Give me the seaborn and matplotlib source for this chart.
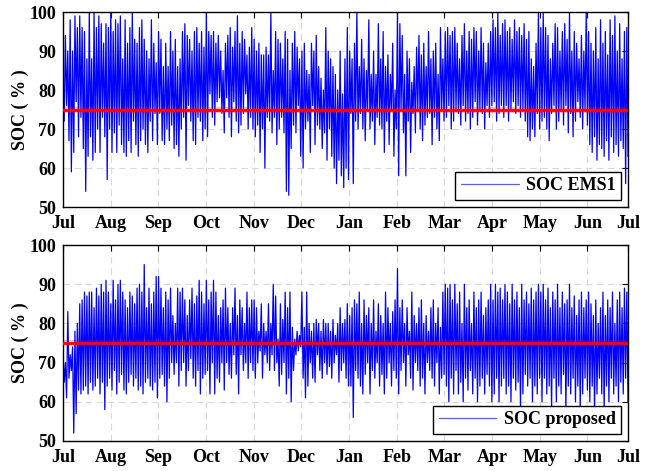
import numpy as np
import pandas as pd
import matplotlib
matplotlib.use("Agg")
import matplotlib.pyplot as plt
import seaborn as sns

# ---- data (alternating daily peaks / troughs) ----
month_labels = ["Jul", "Aug", "Sep", "Oct", "Nov", "Dec", "Jan", "Feb",
                "Mar", "Apr", "May", "Jun", "Jul"]
tick_days = [0, 30.8, 61.6, 92.4, 123.2, 154.0, 184.8, 215.6, 246.4,
             277.2, 308.0, 338.8, 365]
year_days = 365
soc_reference = 75

soc_ems1 = [
    # Jul
    82, 72, 94, 76, 90, 67, 98, 59, 90, 64, 99, 77, 96, 68, 99, 73, 96, 65, 95, 54,
    88, 63, 100, 68, 88, 62, 100, 64, 96, 70, 99, 64, 97, 73, 92, 68, 97, 57, 96, 70,
    # Aug
    100, 64, 95, 69, 98, 64, 97, 71, 99, 66, 88, 64, 98, 63, 92, 67, 96, 64, 100, 72,
    93, 66, 92, 63, 96, 67, 98, 70, 93, 66, 90, 64, 88, 72, 98, 67, 92, 74, 87, 66,
    # Sep
    95, 74, 93, 67, 86, 66, 92, 70, 86, 67, 95, 71, 90, 65, 93, 66, 86, 63, 88, 70,
    95, 73, 97, 62, 94, 76, 93, 72, 90, 67, 95, 66, 96, 73, 92, 72, 95, 67, 91, 70,
    # Oct
    100, 68, 95, 79, 94, 73, 95, 71, 92, 77, 94, 78, 90, 74, 85, 69, 92, 78, 94, 73,
    96, 68, 91, 77, 95, 72, 99, 69, 92, 71, 95, 74, 93, 79, 89, 70, 91, 73, 96, 70,
    # Nov
    93, 68, 90, 71, 92, 64, 89, 70, 89, 60, 91, 73, 89, 72, 100, 69, 85, 73, 95, 66,
    93, 70, 92, 73, 88, 69, 95, 54, 93, 53, 85, 65, 92, 71, 95, 69, 91, 76, 88, 63,
    # Dec
    90, 60, 92, 70, 85, 72, 84, 64, 92, 76, 90, 66, 94, 71, 86, 70, 83, 65, 80, 69,
    96, 62, 90, 70, 88, 63, 86, 60, 84, 56, 80, 62, 90, 58, 79, 55, 88, 60, 96, 57,
    # Jan
    90, 74, 88, 56, 92, 72, 100, 70, 86, 74, 93, 70, 88, 67, 85, 75, 98, 70, 84, 72,
    90, 66, 84, 73, 97, 71, 88, 70, 95, 64, 86, 72, 89, 66, 84, 75, 92, 63, 80, 70,
    # Feb
    100, 58, 97, 75, 94, 69, 84, 58, 90, 72, 88, 64, 82, 74, 86, 69, 91, 75, 94, 70,
    89, 67, 92, 71, 86, 73, 95, 74, 88, 66, 90, 73, 92, 70, 84, 67, 96, 75, 88, 72,
    # Mar
    95, 73, 96, 76, 94, 70, 95, 72, 96, 75, 92, 74, 88, 71, 94, 76, 97, 72, 90, 74,
    95, 70, 93, 73, 96, 77, 95, 71, 90, 75, 96, 74, 92, 70, 87, 76, 92, 73, 95, 76,
    # Apr
    98, 77, 96, 72, 100, 74, 94, 76, 97, 73, 98, 76, 95, 72, 96, 75, 93, 77, 98, 74,
    95, 76, 96, 73, 94, 75, 97, 72, 93, 68, 95, 67, 88, 70, 86, 68, 92, 74, 100, 70,
    # May
    96, 72, 100, 73, 96, 70, 94, 67, 88, 74, 92, 76, 97, 70, 96, 72, 90, 75, 95, 71,
    97, 76, 93, 69, 100, 74, 90, 68, 95, 72, 92, 77, 88, 73, 94, 70, 90, 75, 100, 71,
    # Jun
    95, 66, 92, 64, 90, 68, 96, 62, 88, 66, 98, 65, 92, 63, 95, 67, 89, 62, 98, 68,
    94, 64, 99, 66, 90, 63, 97, 67, 88, 65, 95, 56, 96, 63,
]

soc_proposed = [
    # Jul
    72, 65, 70, 61, 83, 66, 72, 68, 74, 52, 78, 57, 80, 63, 85, 62, 86, 63, 88, 64,
    87, 62, 88, 65, 88, 63, 84, 64, 89, 66, 87, 62, 90, 65, 88, 58, 91, 64, 88, 66,
    # Aug
    85, 63, 91, 68, 86, 62, 90, 65, 91, 67, 88, 63, 86, 62, 84, 65, 88, 67, 87, 64,
    85, 66, 89, 63, 90, 64, 88, 62, 95, 65, 84, 66, 89, 64, 85, 63, 88, 65, 92, 61,
    # Sep
    92, 66, 89, 67, 84, 64, 88, 60, 86, 66, 89, 70, 82, 67, 80, 70, 89, 64, 88, 68,
    89, 70, 86, 64, 82, 68, 86, 71, 89, 66, 85, 64, 87, 68, 91, 62, 88, 66, 85, 67,
    # Oct
    91, 68, 86, 62, 88, 70, 91, 62, 88, 66, 82, 65, 84, 70, 86, 63, 89, 70, 84, 67,
    80, 66, 84, 72, 89, 67, 82, 62, 86, 72, 84, 68, 80, 70, 88, 66, 84, 70, 86, 68,
    # Nov
    86, 66, 84, 70, 78, 73, 85, 66, 80, 72, 78, 70, 85, 68, 80, 72, 90, 68, 87, 70,
    76, 64, 85, 67, 81, 70, 88, 62, 84, 66, 88, 60, 79, 68, 76, 72, 78, 73, 77, 74,
    # Dec
    88, 66, 79, 61, 88, 64, 80, 70, 78, 66, 80, 65, 81, 72, 80, 68, 78, 66, 81, 70,
    80, 67, 80, 69, 78, 66, 81, 70, 77, 72, 80, 65, 84, 68, 80, 70, 81, 66, 85, 64,
    # Jan
    82, 64, 84, 56, 86, 68, 85, 66, 88, 64, 80, 62, 86, 67, 82, 70, 84, 62, 80, 68,
    86, 66, 78, 70, 85, 64, 82, 67, 80, 62, 88, 66, 84, 70, 80, 64, 83, 68, 86, 66,
    # Feb
    94, 62, 84, 68, 86, 70, 80, 64, 84, 72, 78, 66, 88, 63, 82, 70, 80, 68, 84, 64,
    86, 66, 80, 62, 82, 70, 78, 68, 84, 66, 86, 64, 80, 70, 84, 62, 79, 66, 88, 67,
    # Mar
    90, 64, 89, 60, 90, 66, 86, 62, 90, 68, 85, 62, 88, 65, 80, 60, 90, 66, 84, 63,
    86, 68, 80, 62, 88, 66, 84, 60, 86, 64, 88, 66, 82, 62, 84, 67, 86, 64, 90, 60,
    # Apr
    86, 62, 90, 66, 88, 60, 89, 64, 86, 66, 90, 62, 88, 64, 85, 60, 90, 66, 86, 63,
    88, 65, 84, 58, 90, 62, 86, 67, 88, 64, 85, 66, 89, 60, 86, 64, 88, 62, 90, 66,
    # May
    88, 60, 90, 66, 86, 62, 89, 64, 84, 58, 88, 66, 86, 60, 90, 64, 84, 62, 88, 67,
    85, 58, 86, 64, 90, 62, 84, 66, 87, 60, 82, 64, 86, 58, 88, 62, 84, 66, 86, 63,
    # Jun
    88, 60, 85, 64, 82, 57, 86, 62, 80, 66, 84, 62, 88, 58, 82, 64, 86, 60, 84, 66,
    88, 62, 80, 64, 86, 60, 88, 65, 84, 62, 89, 66, 88, 60,
]

series = [("SOC EMS1", soc_ems1), ("SOC proposed", soc_proposed)]

# ---- style ----
sns.set_theme(style="white")
plt.rcParams["font.family"] = ["Liberation Serif", "DejaVu Serif"]
plt.rcParams["font.weight"] = "bold"
plt.rcParams["axes.labelweight"] = "bold"
plt.rcParams["text.color"] = "black"
plt.rcParams["axes.labelcolor"] = "black"
plt.rcParams["xtick.color"] = "black"
plt.rcParams["ytick.color"] = "black"

FS = 13

fig = plt.figure(figsize=(6.57, 4.71), dpi=100)
ax_rects = [[0.0959, 0.5605, 0.8600, 0.4140],
            [0.0959, 0.0637, 0.8600, 0.4161]]

for rect, (name, vals) in zip(ax_rects, series):
    ax = fig.add_axes(rect)
    df = pd.DataFrame({"day": np.linspace(0, year_days, len(vals)), "soc": vals})
    sns.lineplot(data=df, x="day", y="soc", ax=ax, color="#0000ff",
                 linewidth=0.9, label=name, sort=False, estimator=None, zorder=2)
    ax.axhline(soc_reference, color="#ff0000", linewidth=4.5, alpha=0.25, zorder=3)
    ax.axhline(soc_reference, color="#ff0000", linewidth=2.0, zorder=4)

    ax.set_xlim(0, year_days)
    ax.set_ylim(50, 100)
    ax.set_xticks(tick_days)
    ax.set_xticklabels(month_labels)
    ax.set_yticks([50, 60, 70, 80, 90, 100])
    ax.set_xlabel("")
    ax.set_ylabel("SOC ( % )", fontsize=FS, fontweight="bold", color="black",
                  labelpad=0)
    ax.grid(True, linestyle=(0, (6, 4)), color="#d9d9d9", linewidth=0.8)
    ax.tick_params(direction="in", top=True, right=True, length=4, width=0.8,
                   labelsize=FS, colors="black")
    ax.tick_params(axis="x", pad=6)
    ax.tick_params(axis="y", pad=5)
    for lab in ax.get_xticklabels() + ax.get_yticklabels():
        lab.set_fontweight("bold")
        lab.set_color("black")
    for sp in ax.spines.values():
        sp.set_color("black")
        sp.set_linewidth(1.0)
    leg = ax.legend(loc="lower right", fancybox=False, framealpha=1,
                    edgecolor="black", prop={"weight": "bold", "size": FS},
                    handlelength=3.2, borderpad=0.3, handletextpad=0.4,
                    borderaxespad=0.4, labelcolor="black")
    leg.get_frame().set_linewidth(1.0)
    for h in leg.get_lines():
        h.set_color("#5a5aff")

fig.savefig("out.png", dpi=100)
